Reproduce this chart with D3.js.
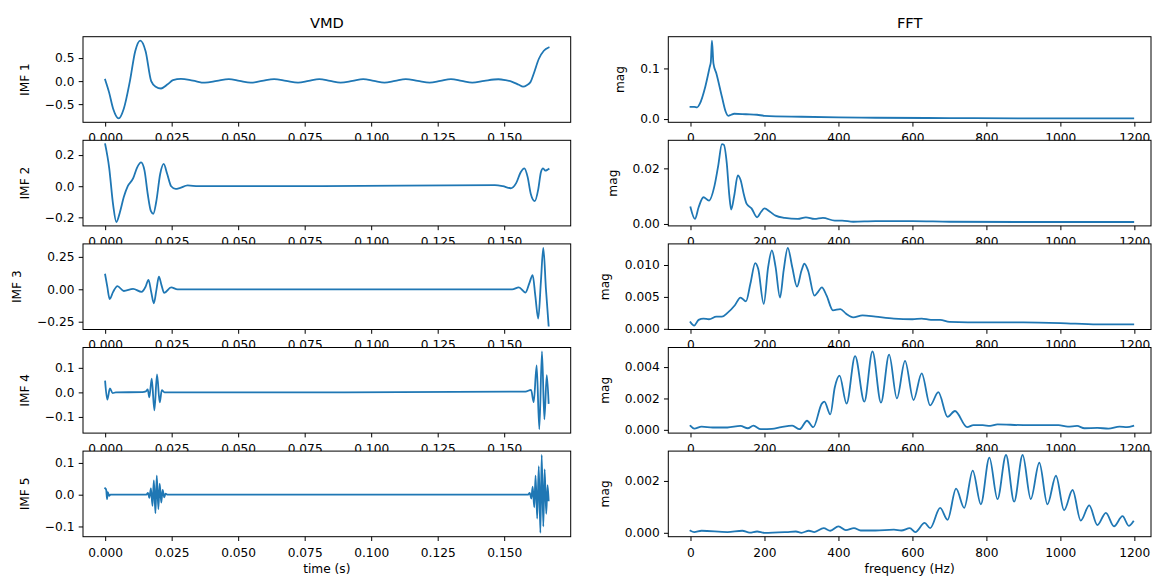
<!DOCTYPE html>
<html><head><meta charset="utf-8">
<script src="https://cdn.jsdelivr.net/npm/d3@7"></script>
<style>
html,body{margin:0;padding:0;background:#fff;}
svg text{font-family:"DejaVu Sans",sans-serif;fill:#000;}
</style></head>
<body><svg id="chart" width="1157" height="576"></svg>
<script>
// ---------- data (time in s, value) ----------
const imf1 = [[0,0.03],[0.0015,-0.25],[0.003,-0.6],[0.0051,-0.81],[0.007,-0.6],[0.0093,0.0],[0.0113,0.65],[0.0132,0.88],[0.0152,0.65],[0.0173,0.0],[0.019,-0.12],[0.021,-0.16],[0.0235,-0.07],[0.0255,0.02],[0.0285,0.05],[0.033,0.01],[0.0375,-0.035],[0.042,0.005],[0.0465,0.045],[0.0505,0.005],[0.0547,-0.035],[0.059,0.005],[0.0635,0.045],[0.068,0.005],[0.0725,-0.035],[0.0765,0.005],[0.0805,0.045],[0.0845,0.005],[0.0885,-0.035],[0.093,0.005],[0.097,0.045],[0.101,0.005],[0.105,-0.035],[0.109,0.005],[0.113,0.045],[0.1175,0.005],[0.122,-0.035],[0.126,0.005],[0.130,0.045],[0.134,0.005],[0.138,-0.035],[0.1425,0.005],[0.1478,0.04],[0.1505,0.02],[0.153,-0.015],[0.1555,-0.08],[0.1571,-0.12],[0.1585,-0.09],[0.1599,-0.02],[0.1611,0.16],[0.163,0.48],[0.1649,0.66],[0.1667,0.73]];
const imf2 = [[0,0.27],[0.0015,0.12],[0.003,-0.12],[0.0042,-0.23],[0.0055,-0.17],[0.007,-0.07],[0.0085,0.0],[0.0105,0.05],[0.012,0.12],[0.0135,0.153],[0.0148,0.1],[0.016,-0.05],[0.0172,-0.16],[0.0181,-0.177],[0.0192,-0.1],[0.0207,0.08],[0.022,0.143],[0.0233,0.08],[0.0248,0.0],[0.0265,-0.017],[0.028,-0.012],[0.031,0.005],[0.035,0.0],[0.08,0.0],[0.1465,0.007],[0.1495,0.0],[0.1524,-0.013],[0.1545,0.02],[0.1562,0.09],[0.1576,0.115],[0.1588,0.06],[0.16,-0.05],[0.1615,-0.096],[0.1628,-0.02],[0.1638,0.09],[0.1646,0.115],[0.1655,0.1],[0.1662,0.105],[0.1667,0.11]];
const imf3 = [[0,0.113],[0.0008,0.02],[0.0017,-0.075],[0.003,-0.02],[0.0046,0.025],[0.007,-0.013],[0.0105,0.003],[0.0137,-0.02],[0.0152,0.02],[0.0163,0.073],[0.0173,-0.02],[0.0183,-0.108],[0.0193,0.0],[0.0202,0.098],[0.0212,0.03],[0.0222,-0.028],[0.0248,0.015],[0.0272,0.0],[0.09,0.0],[0.153,0.0],[0.1555,0.015],[0.158,-0.025],[0.1595,0.05],[0.1607,0.11],[0.1617,-0.05],[0.1628,-0.226],[0.1638,0.06],[0.1647,0.32],[0.1657,0.0],[0.1667,-0.28]];
const imf4 = [[0,0.044],[0.0008,-0.029],[0.0018,0.016],[0.0028,-0.003],[0.004,0.0],[0.014,0.001],[0.0153,0.004],[0.016,0.012],[0.0166,-0.02],[0.0175,0.056],[0.0185,-0.073],[0.0195,0.073],[0.0205,-0.041],[0.0213,0.009],[0.0223,0.0],[0.09,0.0],[0.158,0.003],[0.1601,0.01],[0.1611,-0.04],[0.1622,0.11],[0.1632,-0.15],[0.1642,0.167],[0.1651,-0.11],[0.166,0.07],[0.1667,-0.043]];
const imf5 = [[0,0.02],[0.0004,0.015],[0.0007,-0.014],[0.001,0.008],[0.0015,-0.004],[0.002,0.0],[0.0155,0.0],[0.0161,0.006],[0.0166,-0.01],[0.0172,0.02],[0.0178,-0.035],[0.0183,0.045],[0.0189,-0.058],[0.0194,0.06],[0.02,-0.045],[0.0205,0.035],[0.0211,-0.025],[0.0216,0.015],[0.0222,-0.008],[0.0227,0.003],[0.0235,0.0],[0.09,0.0],[0.159,0.0],[0.1596,0.006],[0.1602,-0.012],[0.1607,0.025],[0.1613,-0.04],[0.1618,0.06],[0.1624,-0.075],[0.163,0.09],[0.1636,-0.12],[0.1641,0.125],[0.1647,-0.1],[0.1652,0.08],[0.1658,-0.06],[0.1663,0.03],[0.1667,-0.018]];

// ---------- data (frequency in Hz, magnitude) ----------
const fft1 = [[0,0.024],[10,0.024],[18,0.023],[25,0.03],[40,0.064],[52,0.103],[55,0.113],[58,0.155],[62,0.11],[70,0.09],[85,0.044],[95,0.015],[102,0.0065],[110,0.0085],[118,0.0105],[150,0.0095],[180,0.0085],[200,0.0065],[300,0.0046],[400,0.0033],[500,0.0026],[700,0.002],[900,0.0014],[1197,0.0013]];
const fft2 = [[0,0.006],[12,0.0018],[22,0.006],[35,0.0096],[50,0.0084],[65,0.0138],[75,0.021],[85,0.0287],[90,0.0285],[98,0.022],[105,0.0102],[110,0.0052],[118,0.01],[128,0.0175],[135,0.016],[145,0.0102],[152,0.0072],[165,0.0056],[180,0.0024],[190,0.0042],[200,0.0056],[215,0.0044],[230,0.003],[255,0.0022],[290,0.0018],[312,0.0024],[335,0.0018],[358,0.0022],[390,0.0012],[410,0.0012],[440,0.0008],[500,0.001],[600,0.001],[700,0.0008],[900,0.0007],[1197,0.0007]];
const fft3 = [[0,0.00104],[10,0.0005],[22,0.0014],[35,0.0016],[50,0.0015],[70,0.0019],[85,0.0019],[100,0.0025],[120,0.0037],[135,0.0049],[150,0.0043],[162,0.0071],[175,0.0103],[183,0.0094],[198,0.0039],[210,0.0097],[220,0.0123],[230,0.0097],[242,0.0049],[252,0.0092],[263,0.0127],[275,0.0097],[288,0.0066],[300,0.0091],[308,0.0102],[318,0.0091],[335,0.0052],[345,0.0058],[355,0.0065],[368,0.0052],[385,0.0029],[405,0.0031],[420,0.0024],[440,0.0018],[465,0.0021],[500,0.0019],[550,0.0016],[600,0.0015],[625,0.0016],[650,0.0014],[675,0.0014],[700,0.0011],[800,0.001],[900,0.001],[1000,0.0009],[1100,0.0007],[1197,0.0007]];
const fft4 = [[0,0.00025],[10,0.00008],[30,0.0002],[60,0.00015],[100,0.00015],[135,0.00025],[155,0.0001],[170,0.00027],[190,0.00004],[220,0.00006],[245,0.00017],[275,0.00027],[295,0.00004],[315,0.00058],[332,0.00017],[355,0.00167],[362,0.0018],[378,0.00098],[390,0.0027],[403,0.00346],[422,0.00167],[445,0.0047],[470,0.0018],[492,0.005],[515,0.00173],[537,0.0048],[558,0.002],[580,0.0044],[603,0.0019],[625,0.0036],[648,0.00156],[670,0.0024],[695,0.00083],[715,0.0012],[748,0.00017],[765,0.0003],[790,0.0003],[810,0.00025],[830,0.00035],[900,0.0003],[995,0.0003],[1020,0.0002],[1045,0.00025],[1065,0.0001],[1100,0.00012],[1130,0.00008],[1160,0.0002],[1180,0.00017],[1197,0.00025]];
const fft5 = [[0,0.00008],[10,0.00003],[30,0.00008],[100,0.00003],[140,0.00008],[160,0.00001],[180,0.00005],[200,0.0],[260,0.00003],[285,0.00005],[300,0.0],[320,0.00008],[335,0.00003],[360,0.00018],[378,0.00008],[400,0.00025],[420,0.0001],[442,0.00018],[460,0.00009],[500,0.00009],[550,0.00012],[570,0.00009],[593,0.00018],[608,0.00003],[633,0.00038],[648,0.00018],[675,0.00096],[695,0.0005],[718,0.0017],[740,0.00096],[763,0.0024],[785,0.0011],[808,0.0029],[830,0.0013],[853,0.003],[875,0.0012],[898,0.003],[920,0.0013],[943,0.0027],[965,0.0011],[988,0.0022],[1010,0.00087],[1033,0.00165],[1055,0.00047],[1078,0.00106],[1100,0.0003],[1123,0.00077],[1145,0.00025],[1168,0.00064],[1185,0.00027],[1197,0.00044]];

// ---------- ticks & labels ----------
const timeTicks = [0, 0.025, 0.05, 0.075, 0.1, 0.125, 0.15];
const freqTicks = [0, 200, 400, 600, 800, 1000, 1200];
const imfTicks = [[-0.5,0,0.5],[-0.2,0,0.2],[-0.25,0,0.25],[-0.1,0,0.1],[-0.1,0,0.1]];
const imfTickFormats = [".1f",".1f",".2f",".1f",".1f"];
const fftTicks = [[0,0.1],[0,0.02],[0,0.005,0.01],[0,0.002,0.004],[0,0.002]];
const fftTickFormats = [".1f",".2f",".3f",".3f",".3f"];
const imfLabels = ["IMF 1","IMF 2","IMF 3","IMF 4","IMF 5"];
const imfSeries = [imf1, imf2, imf3, imf4, imf5];
const fftSeries = [fft1, fft2, fft3, fft4, fft5];

// ---------- layout ----------
const FS = 12.2, TICK = 4.3, PAD = 4.3;
const cols = [
  {x0: 83, x1: 570.7, domain: [-0.00833, 0.175], ticks: timeTicks, fmt: d3.format(".3f"), title: "VMD", xlabel: "time (s)"},
  {x0: 668.3, x1: 1151, domain: [-60, 1245], ticks: freqTicks, fmt: d3.format("d"), title: "FFT", xlabel: "frequency (Hz)"}
];
const rowTop = i => 36.7 + i * 103.6, rowH = 85.6;

const svg = d3.select("#chart");
const color = "#1f77b4";

for (let i = 0; i < 5; i++) {
  for (let c = 0; c < 2; c++) {
    const col = cols[c];
    const top = rowTop(i), bot = top + rowH;
    const data = c === 0 ? imfSeries[i] : fftSeries[i];
    const yT = c === 0 ? imfTicks[i] : fftTicks[i];
    const yF = d3.format(c === 0 ? imfTickFormats[i] : fftTickFormats[i]);
    const ext = d3.extent(data, d => d[1]);
    const m = (ext[1] - ext[0]) * 0.05;
    const x = d3.scaleLinear().domain(col.domain).range([col.x0, col.x1]);
    const y = d3.scaleLinear().domain([ext[0] - m, ext[1] + m]).range([bot, top]);

    const g = svg.append("g");
    g.append("rect").attr("x", col.x0).attr("y", top).attr("width", col.x1 - col.x0).attr("height", rowH).attr("fill", "#fff");
    const cid = `clip${i}_${c}`;
    g.append("clipPath").attr("id", cid).append("rect").attr("x", col.x0).attr("y", top).attr("width", col.x1 - col.x0).attr("height", rowH);
    const line = d3.line().x(d => x(d[0])).y(d => y(d[1])).curve(d3.curveMonotoneX);
    g.append("path").datum(data).attr("d", line).attr("fill", "none").attr("stroke", color)
      .attr("stroke-width", 1.8).attr("stroke-linejoin", "round").attr("stroke-linecap", "square").attr("clip-path", `url(#${cid})`);

    const xa = g.append("g").attr("transform", `translate(0,${bot})`)
      .call(d3.axisBottom(x).tickValues(col.ticks).tickFormat(col.fmt).tickSize(TICK).tickPadding(PAD));
    const ya = g.append("g").attr("transform", `translate(${col.x0},0)`)
      .call(d3.axisLeft(y).tickValues(yT).tickFormat(yF).tickSize(TICK).tickPadding(PAD));
    [xa, ya].forEach(a => {
      a.select(".domain").remove();
      a.attr("font-family", null).attr("font-size", null);
      a.selectAll("line").attr("stroke", "#000").attr("stroke-width", 1);
      a.selectAll("text").style("font-size", FS + "px").attr("fill", "#000");
    });
    xa.selectAll("text").attr("dy", null).attr("y", TICK + PAD + FS * 0.93);
    g.append("rect").attr("x", col.x0).attr("y", top).attr("width", col.x1 - col.x0).attr("height", rowH)
      .attr("fill", "none").attr("stroke", "#000").attr("stroke-width", 1);

    // y label placed left of the widest tick label
    let maxW = 0;
    ya.selectAll("text").each(function () { maxW = Math.max(maxW, this.getComputedTextLength()); });
    const lx = col.x0 - TICK - PAD - maxW - 16;
    g.append("text").attr("transform", `translate(${lx},${(top + bot) / 2}) rotate(-90)`)
      .attr("text-anchor", "middle").style("font-size", FS + "px").text(c === 0 ? imfLabels[i] : "mag");

    if (i === 0) {
      g.append("text").attr("x", (col.x0 + col.x1) / 2).attr("y", top - 8.5).attr("text-anchor", "middle")
        .style("font-size", (FS * 1.2) + "px").text(col.title);
    }
    if (i === 4) {
      g.append("text").attr("x", (col.x0 + col.x1) / 2).attr("y", 572.5)
        .attr("text-anchor", "middle").style("font-size", FS + "px").text(col.xlabel);
    }
  }
}
</script></body></html>
